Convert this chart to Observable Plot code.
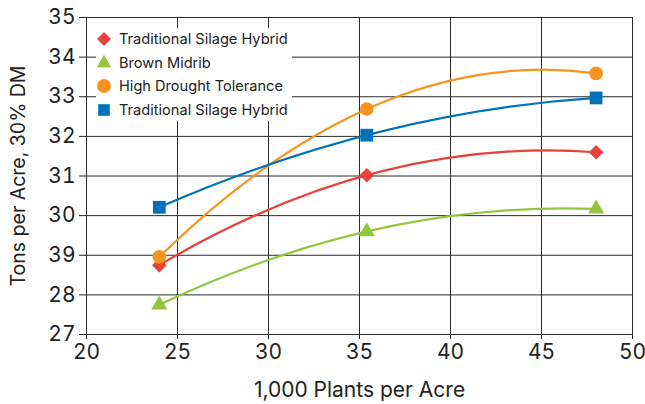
<!DOCTYPE html>
<html>
<head>
<meta charset="utf-8">
<script src="https://cdn.jsdelivr.net/npm/d3@7"></script>
<script src="https://cdn.jsdelivr.net/npm/@observablehq/plot@0.6"></script>
<style>
  html, body { margin: 0; padding: 0; background: #fff; }
  #wrap { position: relative; width: 645px; height: 404px; font-family: Inter, Lato, sans-serif; }
  #legend { position: absolute; left: 96px; top: 28px; width: 196px; height: 93px; background: #fff; }
  .item { position: absolute; left: 0px; height: 20px; display: flex; align-items: center; font-size: 14.6px; color: #222; white-space: nowrap; }
  .item svg { width: 18px; height: 18px; margin-left: -1px; margin-right: 6px; }
</style>
</head>
<body>
<div id="wrap"></div>
<script>
// ---- data ----
const seriesNames = ["Traditional Silage Hybrid", "Brown Midrib", "High Drought Tolerance", "Traditional Silage Hybrid "];
const seriesColors = ["#e8413b", "#93c63e", "#f7941e", "#0072bc"];
const seriesSymbols = ["diamond2", "triangle", "circle", "square"];
const plantsPerAcre = [24, 35.4, 48];
const tonsTraditional = [28.75, 31.02, 31.60];
const tonsBrownMidrib = [27.75, 29.60, 30.17];
const tonsDrought = [28.96, 32.69, 33.59];
const tonsTraditional2 = [30.21, 32.03, 32.97];
const xTicks = [20, 25, 30, 35, 40, 45, 50];
const yTicks = [27, 28, 29, 30, 31, 32, 33, 34, 35];
const yTickLabels = ["27", "28", "39", "30", "31", "32", "33", "34", "35"];

const allSeries = [tonsTraditional, tonsBrownMidrib, tonsDrought, tonsTraditional2];
const rows = [];
allSeries.forEach((vals, i) => vals.forEach((v, j) => rows.push({series: seriesNames[i], x: plantsPerAcre[j], y: v})));

// polynomial (order 2) trendline curve through three points, like a spreadsheet trendline
function QuadFit(context) { this._context = context; }
QuadFit.prototype = {
  areaStart() { this._line = 0; }, areaEnd() { this._line = NaN; },
  lineStart() { this._pts = []; },
  point(x, y) { this._pts.push([+x, +y]); },
  lineEnd() {
    const p = this._pts, c = this._context;
    if (p.length === 3) {
      const [[x0, y0], [x1, y1], [x2, y2]] = p;
      const s0 = y0 * (2 * x0 - x1 - x2) / ((x0 - x1) * (x0 - x2))
               + y1 * (x0 - x2) / ((x1 - x0) * (x1 - x2))
               + y2 * (x0 - x1) / ((x2 - x0) * (x2 - x1));
      const cx = (x0 + x2) / 2, cy = y0 + s0 * (cx - x0);
      c.moveTo(x0, y0);
      c.quadraticCurveTo(cx, cy, x2, y2);
    } else {
      p.forEach(([x, y], i) => i ? c.lineTo(x, y) : c.moveTo(x, y));
    }
  }
};
const quadFit = ctx => new QuadFit(ctx);

const dotR = [6.6, 6.0, 6.8, 7.2];
const gridColor = "#2a2a2a";
const chart = Plot.plot({
  width: 645, height: 404,
  marginLeft: 86, marginRight: 13, marginTop: 17, marginBottom: 70,
  style: {fontFamily: "Inter, Lato, sans-serif", fontSize: "21px", color: "#222", background: "#fff"},
  x: {domain: [20, 50], ticks: xTicks, tickSize: 5, tickPadding: 5, label: null},
  y: {domain: [27, 35], ticks: yTicks, tickSize: 7, tickPadding: 4, tickFormat: d => yTickLabels[yTicks.indexOf(d)], label: null},
  color: {domain: seriesNames, range: seriesColors},
  marks: [
    Plot.gridX(xTicks, {stroke: gridColor, strokeOpacity: 1}),
    Plot.gridY(yTicks, {stroke: gridColor, strokeOpacity: 1}),
    Plot.frame({stroke: gridColor}),
    Plot.axisX({ticks: xTicks, tickSize: 5, tickPadding: 5, label: "1,000 Plants per Acre", labelAnchor: "center", labelOffset: 62, labelArrow: "none", fontSize: 21}),
    Plot.axisY({ticks: yTicks, tickSize: 7, tickPadding: 4, tickFormat: d => yTickLabels[yTicks.indexOf(d)], label: "Tons per Acre, 30% DM", labelAnchor: "center", labelOffset: 75, labelArrow: "none", fontSize: 21}),
    Plot.line(rows, {x: "x", y: "y", z: "series", stroke: "series", strokeWidth: 2.2, curve: quadFit}),
    ...seriesNames.map((name, i) =>
      Plot.dot(rows.filter(d => d.series === name), {x: "x", y: "y", fill: seriesColors[i], symbol: seriesSymbols[i], r: dotR[i], stroke: "none"}))
  ]
});
const wrap = document.getElementById("wrap");
wrap.appendChild(chart);
// axis titles sized to match the original
d3.select(chart).selectAll("g[aria-label='x-axis label'] text").style("font-size", "21px");
d3.select(chart).selectAll("g[aria-label='y-axis label'] text").style("font-size", "19.5px");

// legend (white box inside the plot area, as in the original)
const legend = document.createElement("div");
legend.id = "legend";
const symPaths = {
  diamond2: d3.symbol(d3.symbolDiamond2, 125)(),
  triangle: d3.symbol(d3.symbolTriangle, 90)(),
  circle: d3.symbol(d3.symbolCircle, 150)(),
  square: d3.symbol(d3.symbolSquare, 135)()
};
seriesNames.forEach((name, i) => {
  const it = document.createElement("div");
  it.className = "item";
  it.style.top = (1 + i * 23.6) + "px";
  it.innerHTML = `<svg viewBox="-9 -9 18 18"><path d="${symPaths[seriesSymbols[i]]}" fill="${seriesColors[i]}"/></svg><span>${name.trim()}</span>`;
  legend.appendChild(it);
});
wrap.appendChild(legend);
</script>
</body>
</html>
